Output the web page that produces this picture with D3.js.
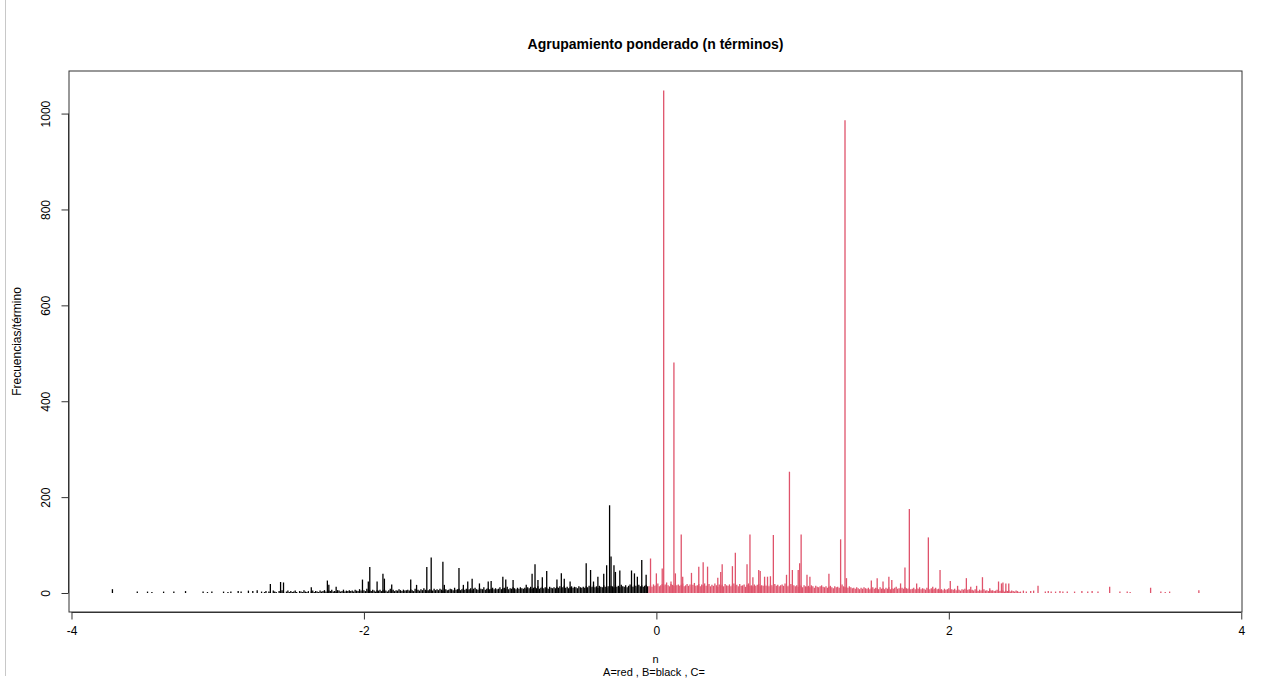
<!DOCTYPE html>
<html>
<head>
<meta charset="utf-8">
<script src="https://cdn.jsdelivr.net/npm/d3@7"></script>
<style>
  body { margin: 0; background: #fff; }
  svg { display: block; font-family: "Liberation Sans", Arial, sans-serif; }
</style>
</head>
<body>
<svg id="chart" width="1263" height="679"></svg>
<script>
// grupo B (negro): picos [n, frecuencia]
const blackPeaks = [
  [-3.72, 8], [-3.55, 3], [-3.48, 3], [-3.45, 2], [-3.37, 3], [-3.30, 3], [-3.22, 4],
  [-3.10, 3], [-3.07, 2], [-3.04, 3], [-2.96, 3], [-2.93, 2], [-2.91, 3], [-2.86, 4],
  [-2.84, 3], [-2.79, 5], [-2.76, 4], [-2.73, 6], [-2.64, 19], [-2.57, 23], [-2.55, 22],
  [-2.36, 12], [-2.25, 26], [-2.24, 17], [-2.19, 13], [-2.01, 28], [-1.97, 24], [-1.96, 54],
  [-1.91, 24], [-1.87, 40], [-1.86, 30], [-1.81, 18], [-1.68, 28], [-1.64, 17], [-1.57, 54],
  [-1.54, 74], [-1.46, 65], [-1.45, 17], [-1.35, 52], [-1.32, 17], [-1.29, 24], [-1.26, 30],
  [-1.21, 20], [-1.15, 24], [-1.13, 25], [-1.05, 34], [-1.03, 28], [-0.98, 27], [-0.89, 17],
  [-0.85, 40], [-0.83, 60], [-0.81, 27], [-0.78, 33], [-0.75, 46], [-0.68, 28], [-0.65, 41],
  [-0.63, 30], [-0.59, 24], [-0.48, 62], [-0.45, 48], [-0.43, 24], [-0.40, 34], [-0.36, 40],
  [-0.34, 58], [-0.32, 183], [-0.31, 76], [-0.29, 58], [-0.28, 44], [-0.25, 47], [-0.17, 47],
  [-0.15, 41], [-0.13, 34], [-0.10, 69], [-0.07, 38]
];
// grupo B: frecuencias base, n = -2.70 ... -0.06 (paso 0.01)
const blackBaseStart = -2.70;
const blackBase = [
  3,0,2,4,0,3,2,0,5,3,2,0,4,3,6,2,0,3,5,2,
  4,2,3,5,2,0,4,3,2,6,3,2,4,0,3,5,2,4,3,2,
  5,3,4,6,3,2,5,4,7,3,4,2,6,5,3,4,7,3,5,4,
  6,4,5,3,7,5,4,8,5,3,6,4,9,5,6,4,7,5,3,6,
  5,7,4,6,8,5,3,6,9,5,7,4,6,5,8,6,4,7,5,6,
  7,5,8,6,4,9,6,7,5,8,6,10,7,5,6,8,7,5,9,6,
  8,6,9,7,5,10,8,6,7,9,8,6,11,7,8,9,6,8,10,7,
  9,7,8,10,6,9,11,8,7,10,9,8,12,7,9,10,8,9,11,8,
  10,8,9,12,8,10,11,9,13,8,10,9,12,10,8,11,9,12,10,9,
  11,9,12,10,13,9,11,12,10,14,9,11,13,10,12,11,9,13,11,10,
  12,10,13,11,14,10,12,15,11,13,10,12,14,11,13,12,10,14,12,11,
  13,11,14,12,15,11,13,16,12,14,11,15,13,12,16,13,11,14,12,15,
  14,12,16,13,15,12,17,14,13,16,12,15,18,14,13,16,15,12,17,14,16,13,15,17,14
];
// grupo A (rojo): picos [n, frecuencia]
const redPeaks = [
  [-0.04, 72], [0.00, 41], [0.04, 51], [0.05, 1048], [0.10, 24], [0.12, 481], [0.13, 41],
  [0.17, 122], [0.18, 34], [0.24, 42], [0.29, 55], [0.32, 64], [0.35, 55], [0.42, 32],
  [0.44, 44], [0.45, 60], [0.52, 56], [0.54, 84], [0.62, 60], [0.64, 122], [0.66, 33],
  [0.70, 48], [0.71, 46], [0.74, 34], [0.76, 34], [0.78, 35], [0.80, 121], [0.89, 38],
  [0.91, 253], [0.93, 48], [0.97, 48], [0.98, 62], [0.99, 122], [1.03, 38], [1.05, 34],
  [1.18, 40], [1.26, 112], [1.29, 986], [1.30, 31], [1.47, 26], [1.51, 31], [1.55, 24],
  [1.59, 34], [1.61, 27], [1.67, 20], [1.70, 53], [1.73, 175], [1.78, 20], [1.86, 116],
  [1.89, 13], [1.94, 48], [2.01, 25], [2.06, 15], [2.12, 31], [2.15, 13], [2.19, 15],
  [2.23, 33], [2.28, 10], [2.34, 24], [2.36, 20], [2.37, 22], [2.39, 20], [2.41, 20],
  [2.51, 5], [2.53, 3], [2.56, 4], [2.58, 5], [2.61, 15], [2.66, 3], [2.68, 4], [2.70, 3],
  [2.73, 3], [2.76, 4], [2.78, 3], [2.81, 3], [2.86, 3], [2.91, 4], [2.95, 3], [2.98, 4],
  [3.02, 3], [3.10, 13], [3.17, 3], [3.22, 3], [3.24, 2], [3.38, 11], [3.45, 3], [3.48, 2],
  [3.51, 3], [3.71, 6]
];
// grupo A: frecuencias base, n = -0.05 ... 2.49 (paso 0.01)
const redBaseStart = -0.05;
const redBase = [
  14,16,13,18,15,17,20,14,16,19,15,18,22,16,14,19,17,15,20,16,
  18,15,17,20,14,16,19,15,18,13,17,21,15,16,19,14,18,16,20,15,
  16,19,14,17,15,20,16,13,18,15,17,14,19,16,15,18,14,17,20,15,
  17,14,19,15,16,18,13,17,20,15,16,14,18,15,17,19,14,16,15,18,
  15,17,14,18,16,13,19,15,17,14,16,18,15,20,16,14,17,19,15,16,
  14,16,13,17,15,12,16,14,13,15,12,16,14,11,15,13,12,14,16,13,
  12,14,11,13,15,12,10,14,12,13,11,15,18,14,12,13,11,14,12,10,
  11,9,12,10,8,11,9,12,10,9,11,8,10,12,9,11,10,8,12,9,
  10,8,11,9,12,8,10,9,11,13,9,10,8,11,9,12,10,9,11,8,
  9,11,8,10,9,12,8,10,9,7,11,9,8,10,7,9,11,8,9,7,
  8,6,9,7,8,10,6,8,7,9,6,8,7,5,8,7,9,6,7,8,
  6,7,5,8,6,4,7,5,6,8,5,6,4,7,5,6,4,5,7,5,
  4,6,5,3,5,4,6,3,5,4,3,5,4,2,3
];
const baseStep = 0.01;
const xTicks = [-4, -2, 0, 2, 4];
const yTicks = [0, 200, 400, 600, 800, 1000];

const svg = d3.select("#chart");
const box = { left: 69, right: 1242, top: 71, bottom: 612 };

const x = d3.scaleLinear().domain([-4.017, 4.005]).range([box.left, box.right]);
const y = d3.scaleLinear().domain([-39.6, 1088.8]).range([box.bottom, box.top]);

const toPoints = (start, arr) => arr.map((v, i) => [+(start + i * baseStep).toFixed(2), v]).filter(d => d[1] > 0);
const blackData = toPoints(blackBaseStart, blackBase).concat(blackPeaks);
const redData = toPoints(redBaseStart, redBase).concat(redPeaks);

// borde izquierdo de la captura
svg.append("line")
  .attr("x1", 5.5).attr("x2", 5.5).attr("y1", 0).attr("y2", 676)
  .attr("stroke", "#c8c8c8");

// lineas verticales (type = "h")
function drawSpikes(data, color) {
  svg.append("g").selectAll("line")
    .data(data)
    .enter()
    .append("line")
    .attr("x1", d => x(d[0])).attr("x2", d => x(d[0]))
    .attr("y1", y(0)).attr("y2", d => y(d[1]))
    .attr("stroke", color)
    .attr("stroke-width", 1.3);
}
drawSpikes(blackData, "#000");
drawSpikes(redData, "#DF536B");

// caja
svg.append("rect")
  .attr("x", box.left).attr("y", box.top)
  .attr("width", box.right - box.left).attr("height", box.bottom - box.top)
  .attr("fill", "none").attr("stroke", "#333");

// eje x
const xAxis = svg.append("g")
  .attr("transform", "translate(0," + (box.bottom + 0.5) + ")")
  .call(d3.axisBottom(x).tickValues(xTicks).tickFormat(d => String(d)).tickSize(7).tickSizeOuter(0).tickPadding(7));
xAxis.select(".domain").attr("d", "M" + x(-4) + ",0H" + x(4)).attr("stroke", "#333");
xAxis.selectAll(".tick line").attr("stroke", "#333");
xAxis.selectAll("text").attr("font-size", 12).attr("fill", "#000").attr("font-family", "Liberation Sans, Arial, sans-serif");

// eje y
const yAxis = svg.append("g")
  .attr("transform", "translate(" + (box.left - 0.5) + ",0)")
  .call(d3.axisLeft(y).tickValues(yTicks).tickFormat(d => String(d)).tickSize(7).tickSizeOuter(0));
yAxis.select(".domain").attr("d", "M0," + y(0) + "V" + y(1000)).attr("stroke", "#333");
yAxis.selectAll(".tick line").attr("stroke", "#333");
yAxis.selectAll("text")
  .attr("font-size", 12).attr("fill", "#000").attr("font-family", "Liberation Sans, Arial, sans-serif")
  .attr("x", null).attr("dy", null)
  .attr("text-anchor", "middle")
  .attr("transform", "translate(-19,0) rotate(-90)");

// textos
svg.append("text")
  .attr("x", (box.left + box.right) / 2).attr("y", 49)
  .attr("text-anchor", "middle").attr("font-size", 14).attr("font-weight", "bold")
  .text("Agrupamiento ponderado (n términos)");

svg.append("text")
  .attr("transform", "translate(21," + ((box.top + box.bottom) / 2) + ") rotate(-90)")
  .attr("text-anchor", "middle").attr("font-size", 12)
  .text("Frecuencias/término");

svg.append("text")
  .attr("x", (box.left + box.right) / 2).attr("y", 663)
  .attr("text-anchor", "middle").attr("font-size", 11)
  .text("n");

svg.append("text")
  .attr("x", 654).attr("y", 676)
  .attr("text-anchor", "middle").attr("font-size", 11)
  .text("A=red , B=black , C=");
</script>
</body>
</html>
